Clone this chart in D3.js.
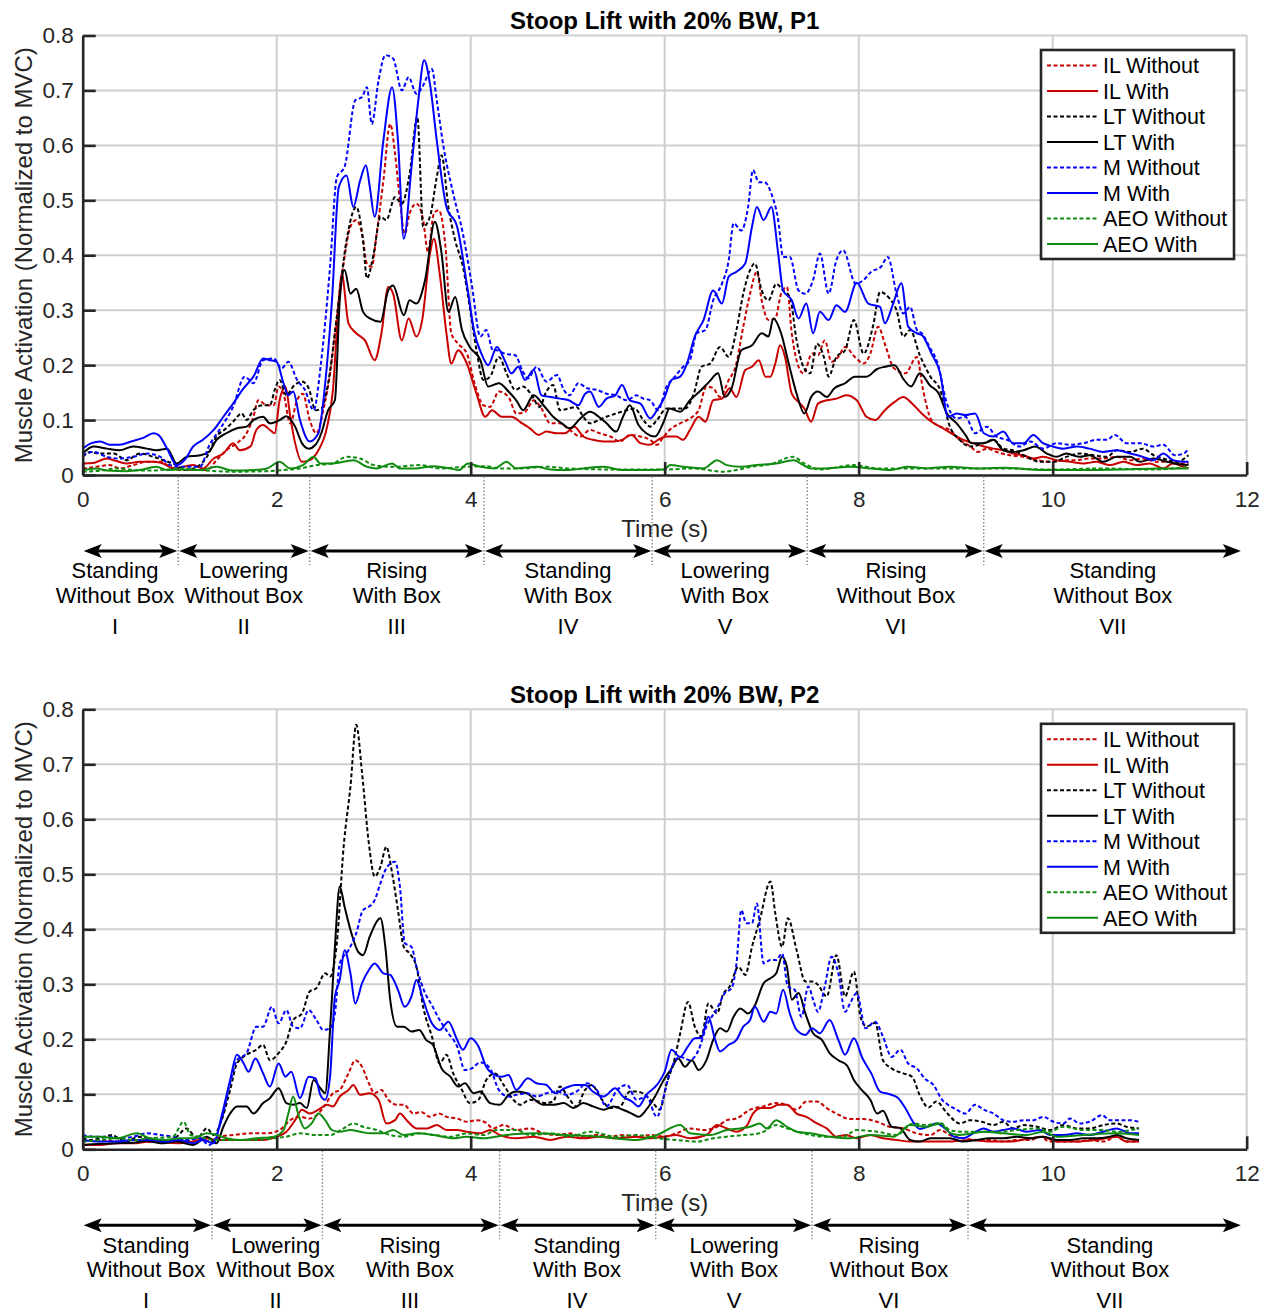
<!DOCTYPE html>
<html>
<head>
<meta charset="utf-8">
<script src="https://cdn.jsdelivr.net/npm/d3@7"></script>
<style>
  html, body { margin: 0; padding: 0; background: #fff; }
  svg { display: block; }
  text { font-family: "Liberation Sans", Arial, Helvetica, sans-serif; }
</style>
</head>
<body>
<svg id="chart" width="1271" height="1312"></svg>
<script>
// ---------------- data: [time (s), activation (fraction of MVC)] ----------------

// Participant 1
const IL_WITHOUT_P1 = [[0,.012],[.14,.015],[.28,.018],[.38,.012],[.52,.018],[.66,.024],[.8,.024],[.9,.015],[1.0,.009],[1.14,.009],[1.28,.009],[1.38,.027],[1.48,.045],[1.59,.058],[1.69,.076],[1.76,.106],[1.81,.136],[1.9,.127],[1.97,.127],[2.02,.161],[2.07,.148],[2.14,.094],[2.21,.136],[2.27,.148],[2.34,.1],[2.41,.076],[2.48,.118],[2.55,.185],[2.62,.288],[2.69,.385],[2.76,.452],[2.82,.464],[2.88,.439],[2.93,.385],[2.98,.379],[3.03,.439],[3.1,.536],[3.17,.639],[3.22,.585],[3.27,.5],[3.32,.439],[3.37,.476],[3.44,.494],[3.51,.464],[3.56,.406],[3.62,.476],[3.67,.482],[3.74,.415],[3.8,.258],[3.87,.239],[3.96,.221],[4.04,.167],[4.13,.127],[4.2,.124],[4.29,.152],[4.39,.142],[4.47,.112],[4.56,.115],[4.65,.136],[4.73,.121],[4.82,.094],[4.92,.094],[5.02,.082],[5.13,.07],[5.23,.082],[5.33,.076],[5.44,.07],[5.54,.061],[5.64,.073],[5.75,.07],[5.85,.064],[5.92,.055],[5.99,.07],[6.05,.082],[6.16,.094],[6.26,.103],[6.35,.118],[6.43,.161],[6.5,.158],[6.57,.142],[6.66,.173],[6.73,.197],[6.81,.27],[6.88,.33],[6.95,.37],[7.0,.318],[7.07,.282],[7.14,.285],[7.2,.33],[7.26,.342],[7.31,.258],[7.38,.197],[7.43,.185],[7.52,.221],[7.58,.218],[7.65,.245],[7.72,.206],[7.79,.215],[7.86,.233],[7.96,.215],[8.05,.203],[8.12,.221],[8.2,.27],[8.28,.233],[8.36,.195],[8.48,.185],[8.6,.215],[8.66,.158],[8.75,.1],[8.84,.088],[8.94,.082],[9.04,.064],[9.15,.052],[9.23,.042],[9.32,.048],[9.42,.042],[9.56,.036],[9.7,.033],[9.84,.027],[9.97,.024],[10.11,.027],[10.25,.027],[10.38,.03],[10.52,.03],[10.66,.033],[10.8,.027],[10.93,.03],[11.07,.024],[11.21,.024],[11.35,.021],[11.4,.021]];
const IL_WITH_P1 = [[0,.021],[.11,.022],[.25,.03],[.32,.027],[.45,.021],[.59,.024],[.73,.024],[.83,.021],[.93,.012],[1.04,.015],[1.14,.018],[1.24,.012],[1.35,.03],[1.45,.039],[1.55,.058],[1.62,.045],[1.73,.052],[1.79,.082],[1.86,.091],[1.93,.082],[1.98,.076],[2.03,.136],[2.09,.161],[2.14,.106],[2.19,.058],[2.26,.024],[2.34,.027],[2.43,.045],[2.52,.088],[2.58,.155],[2.64,.318],[2.67,.367],[2.74,.276],[2.82,.258],[2.91,.245],[3.01,.209],[3.08,.258],[3.15,.342],[3.2,.33],[3.29,.245],[3.36,.285],[3.44,.252],[3.5,.282],[3.58,.403],[3.62,.43],[3.68,.367],[3.75,.258],[3.8,.203],[3.87,.227],[3.96,.203],[4.06,.148],[4.15,.106],[4.22,.118],[4.32,.106],[4.42,.106],[4.53,.094],[4.61,.085],[4.7,.073],[4.78,.079],[4.89,.076],[4.97,.076],[5.07,.088],[5.16,.07],[5.26,.064],[5.37,.061],[5.47,.061],[5.56,.064],[5.66,.073],[5.75,.058],[5.85,.055],[5.93,.064],[6.02,.07],[6.12,.07],[6.19,.064],[6.26,.082],[6.35,.106],[6.42,.097],[6.5,.136],[6.59,.139],[6.67,.158],[6.74,.142],[6.83,.191],[6.9,.197],[6.97,.209],[7.04,.179],[7.09,.179],[7.14,.203],[7.19,.236],[7.24,.215],[7.31,.148],[7.38,.133],[7.44,.121],[7.51,.097],[7.58,.13],[7.67,.136],[7.77,.139],[7.87,.145],[7.98,.136],[8.08,.106],[8.17,.1],[8.27,.118],[8.37,.133],[8.46,.142],[8.55,.13],[8.65,.112],[8.75,.097],[8.86,.086],[8.97,.074],[9.08,.064],[9.18,.058],[9.29,.052],[9.39,.048],[9.49,.045],[9.59,.039],[9.7,.036],[9.8,.03],[9.9,.033],[10.04,.027],[10.18,.024],[10.32,.021],[10.45,.024],[10.59,.018],[10.73,.024],[10.87,.018],[11.0,.021],[11.14,.012],[11.24,.021],[11.35,.015],[11.4,.012]];
const LT_WITHOUT_P1 = [[0,.033],[.08,.042],[.18,.039],[.32,.039],[.45,.027],[.59,.039],[.73,.033],[.83,.027],[.93,.021],[1.07,.009],[1.18,.015],[1.28,.033],[1.38,.07],[1.48,.085],[1.55,.097],[1.64,.112],[1.69,.1],[1.76,.118],[1.86,.127],[1.93,.127],[1.98,.155],[2.03,.173],[2.1,.145],[2.17,.161],[2.26,.17],[2.33,.158],[2.4,.118],[2.46,.121],[2.53,.167],[2.62,.288],[2.72,.427],[2.82,.488],[2.89,.427],[2.93,.358],[3.0,.403],[3.07,.47],[3.13,.464],[3.22,.506],[3.29,.494],[3.37,.548],[3.45,.652],[3.51,.452],[3.58,.47],[3.65,.542],[3.7,.582],[3.77,.488],[3.84,.427],[3.92,.379],[3.99,.306],[4.06,.227],[4.13,.173],[4.2,.179],[4.29,.215],[4.37,.185],[4.46,.155],[4.54,.161],[4.63,.145],[4.71,.124],[4.78,.152],[4.85,.164],[4.92,.118],[5.01,.121],[5.09,.124],[5.16,.106],[5.23,.094],[5.32,.1],[5.4,.106],[5.5,.112],[5.61,.118],[5.69,.121],[5.78,.1],[5.85,.088],[5.92,.1],[6.02,.121],[6.12,.121],[6.21,.121],[6.3,.148],[6.38,.197],[6.47,.203],[6.57,.233],[6.66,.215],[6.74,.264],[6.81,.33],[6.88,.373],[6.93,.385],[7.0,.336],[7.07,.318],[7.15,.348],[7.22,.336],[7.29,.324],[7.36,.245],[7.43,.197],[7.5,.185],[7.57,.239],[7.64,.215],[7.69,.179],[7.77,.215],[7.86,.227],[7.95,.282],[8.05,.221],[8.15,.273],[8.22,.333],[8.32,.321],[8.39,.3],[8.46,.252],[8.53,.264],[8.63,.218],[8.74,.179],[8.84,.155],[8.94,.088],[9.04,.064],[9.15,.052],[9.29,.058],[9.39,.064],[9.49,.048],[9.59,.045],[9.73,.033],[9.87,.024],[10.01,.024],[10.14,.033],[10.28,.039],[10.42,.036],[10.56,.033],[10.66,.045],[10.8,.042],[10.93,.048],[11.04,.036],[11.14,.03],[11.28,.024],[11.4,.036]];
const LT_WITH_P1 = [[0,.039],[.11,.052],[.25,.048],[.38,.045],[.52,.052],[.66,.048],[.76,.045],[.87,.048],[.97,.021],[1.07,.033],[1.21,.036],[1.3,.042],[1.38,.064],[1.48,.076],[1.59,.085],[1.69,.088],[1.76,.1],[1.86,.106],[1.93,.094],[2.03,.1],[2.1,.107],[2.19,.088],[2.26,.058],[2.33,.048],[2.4,.055],[2.46,.076],[2.53,.118],[2.6,.136],[2.65,.318],[2.7,.373],[2.76,.33],[2.82,.339],[2.89,.297],[2.96,.285],[3.07,.279],[3.15,.336],[3.2,.345],[3.31,.291],[3.37,.318],[3.44,.312],[3.53,.355],[3.63,.461],[3.7,.403],[3.77,.297],[3.84,.324],[3.91,.264],[3.99,.233],[4.1,.209],[4.18,.161],[4.29,.167],[4.39,.152],[4.47,.136],[4.54,.118],[4.65,.145],[4.75,.127],[4.85,.106],[4.94,.094],[5.02,.085],[5.13,.103],[5.23,.115],[5.32,.106],[5.4,.094],[5.5,.079],[5.57,.106],[5.64,.127],[5.73,.091],[5.81,.076],[5.9,.07],[5.99,.097],[6.05,.121],[6.16,.115],[6.26,.136],[6.36,.152],[6.46,.17],[6.55,.185],[6.62,.142],[6.69,.158],[6.79,.227],[6.9,.236],[7.0,.258],[7.07,.252],[7.12,.285],[7.2,.258],[7.27,.209],[7.36,.148],[7.44,.112],[7.51,.142],[7.58,.152],[7.67,.142],[7.75,.158],[7.86,.167],[7.96,.179],[8.08,.179],[8.19,.193],[8.27,.197],[8.37,.2],[8.46,.175],[8.54,.161],[8.63,.185],[8.74,.162],[8.82,.15],[8.91,.112],[9.01,.094],[9.1,.073],[9.16,.058],[9.29,.058],[9.39,.064],[9.49,.045],[9.59,.042],[9.7,.045],[9.82,.052],[9.94,.039],[10.04,.033],[10.14,.039],[10.28,.033],[10.38,.036],[10.52,.024],[10.66,.033],[10.8,.033],[10.9,.024],[11.04,.03],[11.18,.024],[11.26,.021],[11.4,.018]];
const M_WITHOUT_P1 = [[0,.036],[.11,.042],[.25,.033],[.38,.03],[.52,.033],[.66,.039],[.8,.033],[.9,.018],[1.0,.015],[1.1,.015],[1.21,.015],[1.3,.052],[1.42,.085],[1.55,.124],[1.67,.179],[1.76,.167],[1.86,.209],[1.97,.212],[2.05,.194],[2.12,.206],[2.21,.173],[2.29,.155],[2.38,.118],[2.46,.209],[2.55,.379],[2.62,.542],[2.7,.561],[2.81,.682],[2.88,.688],[2.93,.706],[2.98,.639],[3.05,.718],[3.12,.764],[3.2,.758],[3.29,.7],[3.36,.724],[3.44,.694],[3.5,.706],[3.6,.739],[3.65,.682],[3.72,.597],[3.82,.512],[3.92,.439],[4.01,.348],[4.1,.252],[4.16,.264],[4.23,.227],[4.27,.227],[4.35,.221],[4.46,.218],[4.53,.191],[4.59,.176],[4.68,.197],[4.78,.17],[4.89,.182],[4.96,.155],[5.02,.145],[5.11,.167],[5.2,.158],[5.3,.155],[5.4,.148],[5.5,.145],[5.61,.136],[5.71,.145],[5.78,.139],[5.85,.136],[5.93,.118],[6.02,.161],[6.09,.176],[6.19,.197],[6.26,.209],[6.33,.258],[6.42,.264],[6.5,.318],[6.59,.348],[6.66,.391],[6.71,.458],[6.79,.445],[6.86,.488],[6.91,.555],[6.97,.533],[7.03,.533],[7.1,.512],[7.17,.464],[7.22,.397],[7.29,.397],[7.38,.336],[7.45,.33],[7.53,.355],[7.6,.403],[7.69,.33],[7.77,.391],[7.84,.409],[7.97,.348],[8.05,.355],[8.13,.37],[8.23,.379],[8.3,.397],[8.39,.33],[8.46,.294],[8.53,.306],[8.6,.264],[8.65,.258],[8.73,.233],[8.82,.2],[8.9,.136],[9.01,.103],[9.1,.106],[9.2,.076],[9.32,.088],[9.42,.07],[9.53,.064],[9.66,.052],[9.77,.061],[9.9,.048],[10.04,.058],[10.18,.055],[10.32,.058],[10.45,.064],[10.56,.064],[10.64,.073],[10.76,.058],[10.9,.058],[11.04,.052],[11.14,.055],[11.26,.036],[11.35,.039],[11.4,.048]];
const M_WITH_P1 = [[0,.048],[.09,.058],[.18,.061],[.28,.055],[.38,.055],[.5,.061],[.63,.068],[.73,.076],[.78,.073],[.87,.048],[.97,.018],[1.05,.027],[1.14,.052],[1.24,.064],[1.35,.082],[1.45,.106],[1.55,.13],[1.66,.158],[1.76,.179],[1.86,.212],[1.93,.209],[2.0,.206],[2.07,.167],[2.12,.145],[2.17,.152],[2.24,.1],[2.34,.061],[2.43,.076],[2.5,.167],[2.57,.318],[2.64,.524],[2.72,.545],[2.79,.488],[2.86,.536],[2.92,.564],[2.96,.524],[3.01,.47],[3.1,.609],[3.19,.706],[3.25,.609],[3.31,.43],[3.39,.561],[3.46,.682],[3.52,.755],[3.58,.712],[3.65,.609],[3.75,.488],[3.86,.452],[3.96,.348],[4.04,.258],[4.11,.221],[4.18,.2],[4.27,.233],[4.35,.209],[4.42,.185],[4.49,.197],[4.56,.173],[4.65,.191],[4.73,.145],[4.82,.142],[4.92,.139],[5.01,.136],[5.11,.127],[5.18,.148],[5.23,.152],[5.32,.124],[5.4,.139],[5.49,.145],[5.56,.164],[5.64,.136],[5.75,.13],[5.85,.103],[5.92,.118],[6.0,.142],[6.07,.173],[6.16,.179],[6.23,.203],[6.31,.252],[6.4,.282],[6.5,.336],[6.59,.312],[6.66,.361],[6.74,.37],[6.83,.385],[6.9,.452],[6.95,.488],[7.02,.464],[7.1,.488],[7.17,.403],[7.22,.336],[7.31,.318],[7.38,.285],[7.46,.312],[7.53,.258],[7.6,.297],[7.69,.282],[7.77,.309],[7.86,.297],[7.98,.35],[8.1,.312],[8.22,.306],[8.27,.276],[8.35,.309],[8.44,.349],[8.51,.27],[8.6,.258],[8.65,.255],[8.75,.221],[8.84,.185],[8.92,.106],[9.01,.112],[9.1,.109],[9.2,.112],[9.29,.076],[9.39,.07],[9.49,.079],[9.59,.058],[9.7,.058],[9.8,.073],[9.9,.058],[10.0,.052],[10.11,.048],[10.25,.052],[10.38,.048],[10.52,.042],[10.66,.045],[10.8,.039],[10.93,.033],[11.04,.027],[11.14,.039],[11.24,.027],[11.35,.024],[11.4,.024]];
const AEO_WITHOUT_P1 = [[0,.006],[.18,.008],[.35,.012],[.52,.009],[.69,.008],[.87,.01],[1.0,.012],[1.21,.009],[1.55,.006],[1.9,.007],[2.07,.009],[2.24,.012],[2.41,.018],[2.58,.021],[2.72,.033],[2.86,.03],[3.0,.018],[3.2,.015],[3.47,.018],[3.68,.012],[3.95,.015],[4.16,.016],[4.3,.012],[4.5,.012],[4.8,.015],[5.0,.012],[5.5,.01],[6.0,.01],[6.3,.012],[6.6,.006],[6.9,.015],[7.1,.02],[7.32,.033],[7.45,.02],[7.6,.01],[7.95,.018],[8.2,.012],[8.5,.012],[9.0,.012],[9.5,.012],[10.0,.01],[10.5,.012],[11.0,.01],[11.4,.014]];
const AEO_WITH_P1 = [[0,.009],[.14,.012],[.25,.008],[.45,.007],[.59,.009],[.76,.015],[.87,.009],[1.0,.01],[1.21,.009],[1.38,.015],[1.55,.008],[1.76,.009],[1.9,.012],[2.03,.024],[2.14,.012],[2.27,.018],[2.38,.033],[2.45,.021],[2.58,.021],[2.79,.027],[2.93,.015],[3.03,.012],[3.19,.021],[3.27,.012],[3.44,.012],[3.61,.016],[3.79,.012],[3.88,.009],[3.97,.021],[4.1,.015],[4.25,.012],[4.37,.024],[4.47,.012],[4.68,.015],[4.82,.01],[4.99,.009],[5.16,.012],[5.37,.015],[5.57,.009],[5.78,.009],[5.99,.01],[6.06,.018],[6.19,.015],[6.4,.012],[6.54,.027],[6.64,.018],[6.78,.015],[6.95,.018],[7.15,.021],[7.33,.027],[7.43,.018],[7.5,.012],[7.67,.012],[7.91,.015],[8.12,.012],[8.33,.009],[8.5,.015],[8.7,.012],[8.94,.015],[9.2,.012],[9.5,.013],[9.9,.009],[10.3,.009],[10.7,.01],[11.1,.012],[11.4,.012]];

// Participant 2
const IL_WITHOUT_P2 = [[0,.014],[.18,.017],[.35,.014],[.52,.017],[.69,.014],[.86,.017],[1.07,.014],[1.21,.02],[1.31,.014],[1.42,.023],[1.55,.026],[1.73,.029],[1.9,.029],[2.03,.035],[2.14,.053],[2.24,.059],[2.34,.056],[2.43,.065],[2.5,.081],[2.58,.102],[2.65,.108],[2.74,.138],[2.81,.162],[2.88,.15],[2.95,.12],[3.01,.102],[3.08,.108],[3.15,.09],[3.24,.081],[3.31,.081],[3.41,.065],[3.49,.068],[3.58,.059],[3.67,.065],[3.75,.059],[3.86,.056],[3.96,.05],[4.06,.053],[4.16,.048],[4.23,.038],[4.34,.044],[4.47,.035],[4.61,.038],[4.75,.029],[4.89,.026],[5.02,.029],[5.16,.023],[5.3,.026],[5.44,.023],[5.57,.026],[5.71,.023],[5.85,.026],[5.99,.023],[6.12,.029],[6.26,.038],[6.4,.035],[6.54,.041],[6.64,.053],[6.74,.056],[6.88,.072],[7.02,.078],[7.15,.084],[7.26,.081],[7.36,.072],[7.46,.087],[7.57,.087],[7.67,.075],[7.77,.065],[7.91,.055],[8.05,.055],[8.19,.05],[8.32,.041],[8.46,.038],[8.6,.029],[8.74,.026],[8.84,.035],[8.94,.026],[9.08,.02],[9.22,.017],[9.35,.017],[9.49,.014],[9.63,.017],[9.77,.017],[9.87,.023],[9.97,.014],[10.11,.014],[10.25,.014],[10.38,.017],[10.52,.014],[10.66,.023],[10.76,.014],[10.89,.014]];
const IL_WITH_P2 = [[0,.008],[.18,.008],[.35,.011],[.52,.011],[.69,.014],[.86,.012],[1.0,.011],[1.14,.014],[1.28,.02],[1.38,.017],[1.52,.017],[1.69,.017],[1.86,.017],[2.0,.023],[2.1,.032],[2.19,.053],[2.26,.072],[2.34,.065],[2.43,.072],[2.52,.081],[2.58,.078],[2.65,.096],[2.74,.108],[2.79,.117],[2.86,.099],[2.96,.102],[3.05,.09],[3.13,.047],[3.22,.053],[3.27,.065],[3.34,.053],[3.44,.038],[3.55,.038],[3.65,.044],[3.75,.035],[3.86,.035],[3.96,.032],[4.1,.029],[4.2,.035],[4.3,.026],[4.47,.02],[4.65,.023],[4.82,.017],[4.99,.023],[5.16,.02],[5.33,.023],[5.5,.02],[5.71,.023],[5.85,.02],[5.99,.023],[6.12,.026],[6.26,.02],[6.43,.026],[6.54,.044],[6.64,.038],[6.74,.032],[6.85,.044],[6.91,.065],[7.0,.075],[7.09,.075],[7.17,.081],[7.26,.081],[7.36,.065],[7.46,.059],[7.57,.047],[7.67,.038],[7.77,.023],[7.87,.026],[7.98,.02],[8.12,.026],[8.25,.02],[8.39,.017],[8.53,.014],[8.67,.014],[8.8,.014],[8.94,.014],[9.15,.017],[9.35,.014],[9.55,.014],[9.77,.02],[9.9,.023],[10.04,.014],[10.25,.014],[10.45,.017],[10.66,.023],[10.76,.014],[10.89,.014]];
const LT_WITHOUT_P2 = [[0,.02],[.08,.017],[.18,.02],[.3,.026],[.37,.02],[.45,.014],[.57,.023],[.69,.02],[.83,.014],[.97,.023],[1.07,.038],[1.18,.02],[1.28,.038],[1.35,.026],[1.42,.047],[1.52,.108],[1.59,.156],[1.69,.172],[1.79,.181],[1.86,.19],[1.93,.162],[2.02,.175],[2.1,.196],[2.17,.235],[2.26,.247],[2.34,.287],[2.41,.293],[2.5,.32],[2.55,.314],[2.62,.375],[2.69,.55],[2.76,.659],[2.82,.772],[2.88,.684],[2.95,.556],[3.01,.496],[3.07,.514],[3.13,.55],[3.19,.502],[3.25,.435],[3.31,.368],[3.37,.356],[3.44,.332],[3.51,.259],[3.6,.205],[3.68,.156],[3.75,.172],[3.82,.138],[3.91,.108],[3.99,.084],[4.08,.09],[4.16,.126],[4.25,.138],[4.34,.117],[4.44,.09],[4.51,.081],[4.61,.09],[4.68,.088],[4.77,.084],[4.85,.087],[4.92,.114],[5.01,.093],[5.09,.078],[5.18,.108],[5.25,.117],[5.33,.096],[5.44,.075],[5.54,.078],[5.64,.105],[5.71,.105],[5.8,.099],[5.88,.084],[5.95,.072],[6.02,.12],[6.09,.156],[6.16,.211],[6.24,.268],[6.31,.223],[6.38,.205],[6.45,.265],[6.54,.247],[6.6,.281],[6.67,.296],[6.76,.332],[6.83,.317],[6.9,.368],[6.98,.417],[7.09,.487],[7.14,.429],[7.21,.368],[7.27,.42],[7.36,.362],[7.45,.305],[7.53,.305],[7.58,.299],[7.67,.278],[7.77,.353],[7.86,.278],[7.95,.323],[8.02,.24],[8.08,.223],[8.17,.23],[8.25,.162],[8.34,.147],[8.46,.138],[8.55,.132],[8.63,.098],[8.72,.076],[8.8,.087],[8.91,.066],[9.04,.047],[9.15,.053],[9.27,.05],[9.39,.044],[9.49,.05],[9.59,.038],[9.7,.044],[9.84,.041],[9.97,.035],[10.11,.044],[10.25,.038],[10.38,.038],[10.52,.044],[10.66,.047],[10.76,.041],[10.89,.038]];
const LT_WITH_P2 = [[0,.008],[.18,.01],[.35,.011],[.52,.012],[.66,.015],[.8,.011],[.97,.014],[1.14,.008],[1.28,.023],[1.38,.011],[1.45,.041],[1.52,.065],[1.59,.078],[1.69,.078],[1.76,.065],[1.86,.084],[1.93,.093],[2.02,.111],[2.1,.084],[2.17,.081],[2.24,.084],[2.31,.075],[2.38,.126],[2.45,.111],[2.5,.102],[2.55,.217],[2.6,.368],[2.65,.478],[2.7,.441],[2.77,.393],[2.84,.359],[2.89,.353],[2.96,.387],[3.07,.42],[3.12,.368],[3.17,.272],[3.24,.223],[3.31,.223],[3.39,.214],[3.47,.217],[3.54,.199],[3.61,.19],[3.7,.147],[3.79,.132],[3.87,.114],[3.94,.12],[4.03,.102],[4.1,.105],[4.2,.084],[4.3,.081],[4.39,.099],[4.47,.105],[4.58,.102],[4.66,.09],[4.75,.081],[4.85,.081],[4.96,.084],[5.06,.075],[5.16,.084],[5.26,.078],[5.37,.072],[5.47,.078],[5.57,.072],[5.66,.065],[5.73,.059],[5.81,.072],[5.9,.096],[5.99,.126],[6.07,.147],[6.14,.165],[6.21,.15],[6.28,.162],[6.35,.144],[6.43,.162],[6.5,.199],[6.57,.22],[6.64,.214],[6.71,.241],[6.78,.256],[6.86,.247],[6.93,.262],[7.02,.302],[7.09,.311],[7.15,.32],[7.21,.35],[7.26,.332],[7.31,.272],[7.38,.284],[7.45,.247],[7.53,.211],[7.62,.199],[7.7,.175],[7.79,.162],[7.88,.152],[7.95,.126],[8.03,.108],[8.12,.09],[8.19,.065],[8.25,.07],[8.34,.041],[8.43,.038],[8.53,.017],[8.63,.014],[8.74,.02],[8.84,.02],[8.94,.02],[9.08,.014],[9.22,.017],[9.35,.02],[9.49,.02],[9.63,.023],[9.77,.02],[9.9,.023],[10.04,.017],[10.18,.017],[10.32,.02],[10.45,.02],[10.59,.023],[10.66,.026],[10.76,.02],[10.89,.017]];
const M_WITHOUT_P2 = [[0,.026],[.11,.023],[.25,.023],[.38,.02],[.52,.023],[.66,.029],[.8,.026],[.93,.023],[1.07,.017],[1.21,.02],[1.3,.008],[1.36,.017],[1.43,.053],[1.52,.12],[1.59,.162],[1.69,.175],[1.79,.223],[1.86,.223],[1.95,.259],[2.02,.229],[2.1,.253],[2.17,.223],[2.24,.22],[2.33,.253],[2.41,.235],[2.48,.217],[2.55,.22],[2.6,.247],[2.65,.338],[2.74,.362],[2.82,.393],[2.89,.435],[2.95,.441],[3.01,.453],[3.07,.484],[3.13,.511],[3.22,.523],[3.27,.478],[3.32,.375],[3.39,.368],[3.44,.332],[3.53,.284],[3.6,.262],[3.68,.235],[3.77,.211],[3.86,.187],[3.94,.144],[4.01,.147],[4.1,.158],[4.2,.147],[4.29,.108],[4.39,.096],[4.47,.099],[4.58,.102],[4.68,.096],[4.78,.102],[4.89,.105],[4.99,.099],[5.09,.105],[5.2,.12],[5.3,.108],[5.4,.078],[5.51,.108],[5.61,.117],[5.71,.09],[5.81,.096],[5.92,.059],[5.99,.096],[6.05,.138],[6.16,.168],[6.26,.162],[6.35,.181],[6.43,.223],[6.54,.256],[6.62,.284],[6.69,.293],[6.74,.338],[6.79,.435],[6.84,.411],[6.9,.411],[6.95,.447],[7.02,.338],[7.09,.344],[7.15,.344],[7.21,.356],[7.27,.296],[7.34,.29],[7.41,.241],[7.48,.296],[7.53,.272],[7.58,.25],[7.65,.296],[7.72,.35],[7.79,.32],[7.86,.25],[7.91,.265],[7.98,.284],[8.07,.22],[8.17,.232],[8.25,.205],[8.34,.168],[8.43,.181],[8.51,.156],[8.6,.147],[8.68,.129],[8.77,.117],[8.86,.09],[8.92,.081],[9.01,.072],[9.1,.065],[9.2,.081],[9.29,.072],[9.39,.065],[9.49,.053],[9.59,.05],[9.7,.053],[9.8,.053],[9.9,.059],[10.01,.05],[10.11,.047],[10.18,.056],[10.28,.047],[10.38,.05],[10.51,.062],[10.59,.053],[10.69,.053],[10.8,.053],[10.89,.05]];
const M_WITH_P2 = [[0,.017],[.18,.014],[.35,.014],[.52,.017],[.69,.017],[.86,.014],[1.0,.017],[1.14,.011],[1.24,.017],[1.35,.011],[1.43,.059],[1.52,.126],[1.59,.172],[1.66,.156],[1.71,.141],[1.78,.165],[1.86,.138],[1.93,.114],[2.02,.156],[2.09,.132],[2.15,.141],[2.24,.093],[2.33,.132],[2.4,.129],[2.45,.099],[2.5,.09],[2.55,.132],[2.6,.278],[2.65,.308],[2.7,.362],[2.76,.32],[2.81,.265],[2.88,.302],[2.95,.326],[3.01,.338],[3.1,.32],[3.17,.317],[3.25,.29],[3.32,.259],[3.39,.278],[3.44,.308],[3.51,.272],[3.6,.229],[3.68,.217],[3.77,.232],[3.86,.199],[3.92,.181],[4.0,.202],[4.08,.187],[4.16,.15],[4.25,.135],[4.32,.132],[4.39,.135],[4.47,.108],[4.59,.129],[4.68,.12],[4.78,.117],[4.87,.102],[4.97,.111],[5.08,.117],[5.18,.117],[5.26,.105],[5.37,.096],[5.49,.111],[5.57,.096],[5.66,.087],[5.73,.078],[5.81,.099],[5.92,.117],[6.0,.141],[6.07,.181],[6.16,.168],[6.24,.187],[6.31,.202],[6.38,.203],[6.45,.241],[6.52,.199],[6.57,.178],[6.66,.19],[6.74,.199],[6.81,.223],[6.88,.235],[6.93,.259],[7.02,.232],[7.09,.25],[7.15,.247],[7.22,.29],[7.29,.247],[7.36,.217],[7.45,.208],[7.52,.22],[7.6,.211],[7.7,.235],[7.79,.199],[7.86,.172],[7.95,.202],[8.04,.165],[8.13,.138],[8.22,.105],[8.32,.1],[8.4,.094],[8.48,.075],[8.56,.05],[8.63,.037],[8.72,.042],[8.8,.047],[8.91,.035],[8.98,.023],[9.08,.02],[9.18,.029],[9.29,.038],[9.39,.032],[9.49,.035],[9.59,.038],[9.73,.032],[9.87,.035],[9.97,.026],[10.11,.026],[10.25,.029],[10.38,.026],[10.52,.032],[10.66,.038],[10.8,.029],[10.89,.029]];
const AEO_WITHOUT_P2 = [[0,.014],[.18,.017],[.35,.02],[.52,.017],[.69,.02],[.93,.023],[1.04,.05],[1.11,.026],[1.21,.023],[1.35,.017],[1.55,.017],[1.76,.017],[1.97,.02],[2.1,.023],[2.24,.029],[2.41,.026],[2.55,.026],[2.69,.038],[2.79,.047],[2.89,.041],[3.03,.035],[3.17,.026],[3.31,.023],[3.48,.029],[3.62,.026],[3.79,.023],[3.96,.029],[4.13,.026],[4.27,.035],[4.47,.035],[4.61,.026],[4.82,.029],[5.02,.023],[5.23,.032],[5.5,.023],[5.71,.026],[5.92,.02],[6.12,.017],[6.33,.014],[6.5,.02],[6.64,.023],[6.81,.026],[6.98,.029],[7.15,.044],[7.26,.038],[7.43,.029],[7.64,.023],[7.84,.023],[7.98,.035],[8.19,.032],[8.39,.026],[8.56,.047],[8.7,.044],[8.84,.048],[8.94,.035],[9.08,.032],[9.29,.032],[9.46,.032],[9.63,.035],[9.84,.038],[9.97,.032],[10.11,.041],[10.32,.035],[10.52,.035],[10.66,.032],[10.89,.038]];
const AEO_WITH_P2 = [[0,.023],[.18,.023],[.35,.02],[.56,.029],[.69,.02],[.86,.017],[1.0,.02],[1.14,.02],[1.28,.029],[1.38,.026],[1.48,.02],[1.62,.017],[1.79,.02],[1.97,.023],[2.07,.035],[2.12,.065],[2.17,.096],[2.22,.065],[2.29,.038],[2.36,.047],[2.43,.065],[2.5,.053],[2.57,.035],[2.65,.032],[2.76,.035],[2.86,.032],[2.96,.029],[3.1,.029],[3.2,.035],[3.31,.026],[3.44,.029],[3.62,.026],[3.82,.02],[3.96,.023],[4.13,.02],[4.37,.026],[4.65,.029],[4.99,.026],[5.33,.023],[5.71,.017],[5.92,.026],[6.16,.044],[6.26,.029],[6.47,.026],[6.64,.035],[6.78,.038],[6.88,.041],[6.98,.047],[7.05,.038],[7.15,.053],[7.26,.041],[7.36,.032],[7.5,.029],[7.7,.023],[7.91,.02],[8.12,.026],[8.36,.023],[8.53,.044],[8.7,.041],[8.84,.047],[8.94,.03],[9.04,.026],[9.29,.032],[9.49,.029],[9.73,.026],[9.9,.032],[10.04,.023],[10.32,.026],[10.66,.029],[10.89,.026]];

// Legend entries (order of drawing) and axis ticks
const SERIES_NAMES = ["IL Without", "IL With", "LT Without", "LT With", "M Without", "M With", "AEO Without", "AEO With"];
const X_TICKS = [0, 2, 4, 6, 8, 10, 12];
const Y_TICKS = [0, 0.1, 0.2, 0.3, 0.4, 0.5, 0.6, 0.7, 0.8];

// Task phases: boundaries (s), label centres (s), label text
const PHASE_BOUNDS_P1 = [0.985, 2.34, 4.137, 5.871, 7.469, 9.289];
const PHASE_BOUNDS_P2 = [1.333, 2.471, 4.298, 5.907, 7.519, 9.127];
const PHASE_LABEL_X_P1 = [0.333, 1.66, 3.237, 5.003, 6.622, 8.384, 10.62];
const PHASE_LABEL_X_P2 = [0.653, 1.988, 3.374, 5.096, 6.715, 8.312, 10.59];
const PHASE_LINE1 = ["Standing", "Lowering", "Rising", "Standing", "Lowering", "Rising", "Standing"];
const PHASE_LINE2 = ["Without Box", "Without Box", "With Box", "With Box", "With Box", "Without Box", "Without Box"];
const PHASE_NUMERALS = ["I", "II", "III", "IV", "V", "VI", "VII"];
const ARROW_END = 11.95;

// ---------------- drawing ----------------
const svg = d3.select("#chart");
const LEFT = 82.7, RIGHT = 1246.7;
const COLORS = {IL: "#c80000", LT: "#000000", M: "#0000ff", AEO: "#0f8c0f"};
const styleOf = name => {
  const [muscle, cond] = name.split(" ");
  return {color: COLORS[muscle], dashed: cond === "Without"};
};

const panels = [
  {title: "Stoop Lift with 20% BW, P1", top: 35.5, bottom: 475,
   series: [IL_WITHOUT_P1, IL_WITH_P1, LT_WITHOUT_P1, LT_WITH_P1, M_WITHOUT_P1, M_WITH_P1, AEO_WITHOUT_P1, AEO_WITH_P1],
   bounds: PHASE_BOUNDS_P1, labelX: PHASE_LABEL_X_P1},
  {title: "Stoop Lift with 20% BW, P2", top: 709.3, bottom: 1149.3,
   series: [IL_WITHOUT_P2, IL_WITH_P2, LT_WITHOUT_P2, LT_WITH_P2, M_WITHOUT_P2, M_WITH_P2, AEO_WITHOUT_P2, AEO_WITH_P2],
   bounds: PHASE_BOUNDS_P2, labelX: PHASE_LABEL_X_P2}
];

const AXIS_COLOR = "#262626";
const GRID_COLOR = "#cfcfcf";
const LINE_W = 2;
const ANNOT_FONT = "22px";

panels.forEach(p => {
  const x = d3.scaleLinear().domain([0, 12]).range([LEFT, RIGHT]);
  const y = d3.scaleLinear().domain([0, 0.8]).range([p.bottom, p.top]);
  const g = svg.append("g");

  // grid
  g.append("g").selectAll("line").data(X_TICKS.slice(1)).join("line")
    .attr("x1", d => x(d)).attr("x2", d => x(d))
    .attr("y1", p.top).attr("y2", p.bottom)
    .attr("stroke", GRID_COLOR).attr("stroke-width", 2);
  g.append("g").selectAll("line").data(Y_TICKS.slice(1)).join("line")
    .attr("x1", LEFT).attr("x2", RIGHT)
    .attr("y1", d => y(d)).attr("y2", d => y(d))
    .attr("stroke", GRID_COLOR).attr("stroke-width", 2);

  // series
  const line = d3.line().x(d => x(d[0])).y(d => y(d[1])).curve(d3.curveMonotoneX);
  p.series.forEach((data, i) => {
    const st = styleOf(SERIES_NAMES[i]);
    g.append("path").datum(data)
      .attr("d", line)
      .attr("fill", "none")
      .attr("stroke", st.color)
      .attr("stroke-width", LINE_W)
      .attr("stroke-linejoin", "round")
      .attr("stroke-dasharray", st.dashed ? "4,2.5" : null);
  });

  // axes
  const yAxis = d3.axisLeft(y).tickValues(Y_TICKS).tickSize(-13).tickSizeOuter(0).tickPadding(9)
    .tickFormat(d => d === 0 ? "0" : d3.format(".1f")(d));
  const ya = g.append("g").attr("transform", `translate(${LEFT},0)`).call(yAxis);
  const xAxis = d3.axisBottom(x).tickValues(X_TICKS).tickSize(-13).tickSizeOuter(0).tickPadding(16)
    .tickFormat(d3.format("d"));
  const xa = g.append("g").attr("transform", `translate(0,${p.bottom})`).call(xAxis);
  [ya, xa].forEach(a => {
    a.select(".domain").attr("stroke", AXIS_COLOR).attr("stroke-width", 2.6);
    a.selectAll(".tick line").attr("stroke", AXIS_COLOR).attr("stroke-width", 2.6);
    a.selectAll(".tick text").attr("fill", AXIS_COLOR).style("font-size", "22.5px")
      .style("font-family", '"Liberation Sans", Arial, sans-serif');
  });

  // titles and axis labels
  g.append("text").attr("x", (LEFT + RIGHT) / 2).attr("y", p.top - 6.5)
    .attr("text-anchor", "middle").style("font-size", "24px").style("font-weight", "bold")
    .text(p.title);
  g.append("text").attr("x", x(6)).attr("y", p.bottom + 62)
    .attr("text-anchor", "middle").style("font-size", "24px").attr("fill", AXIS_COLOR)
    .text("Time (s)");
  g.append("text").attr("transform", `translate(32,${(p.top + p.bottom) / 2}) rotate(-90)`)
    .attr("text-anchor", "middle").style("font-size", "24px").attr("fill", AXIS_COLOR)
    .text("Muscle Activation (Normalized to MVC)");

  // legend
  const lg = g.append("g").attr("transform", `translate(1041,${p.top + 14.5})`);
  lg.append("rect").attr("width", 193).attr("height", 209)
    .attr("fill", "#fff").attr("stroke", AXIS_COLOR).attr("stroke-width", 2.6);
  SERIES_NAMES.forEach((name, i) => {
    const st = styleOf(name);
    const cy = 15.5 + i * 25.5;
    lg.append("line").attr("x1", 6).attr("x2", 57).attr("y1", cy).attr("y2", cy)
      .attr("stroke", st.color).attr("stroke-width", LINE_W)
      .attr("stroke-dasharray", st.dashed ? "4,2.5" : null);
    lg.append("text").attr("x", 62).attr("y", cy).attr("dy", "0.36em")
      .style("font-size", "21.5px").text(name);
  });

  // phase annotations under the axis
  const ay = p.bottom + 76;
  g.append("g").selectAll("line").data(p.bounds).join("line")
    .attr("x1", d => x(d)).attr("x2", d => x(d))
    .attr("y1", p.bottom + 1.5).attr("y2", p.bottom + 90)
    .attr("stroke", "#8a8a8a").attr("stroke-width", 1.5).attr("stroke-dasharray", "1.5,2");

  const edges = [0, ...p.bounds, ARROW_END];
  const HL = 18, HW = 7, NOTCH = 4;
  for (let i = 0; i < edges.length - 1; i++) {
    const x1 = x(edges[i]) + 1, x2 = x(edges[i + 1]) - 1;
    g.append("line").attr("x1", x1 + HL - 4).attr("x2", x2 - HL + 4).attr("y1", ay).attr("y2", ay)
      .attr("stroke", "#000").attr("stroke-width", 3);
    g.append("path")
      .attr("d", `M${x1},${ay} L${x1 + HL},${ay - HW} L${x1 + HL - NOTCH},${ay} L${x1 + HL},${ay + HW} Z`)
      .attr("fill", "#000");
    g.append("path")
      .attr("d", `M${x2},${ay} L${x2 - HL},${ay - HW} L${x2 - HL + NOTCH},${ay} L${x2 - HL},${ay + HW} Z`)
      .attr("fill", "#000");
  }
  // two-line phase description plus its numeral
  const lab = g.append("g").selectAll("g").data(p.labelX).join("g")
    .attr("transform", d => `translate(${x(d)},0)`);
  lab.append("text").attr("y", ay + 27.3).attr("text-anchor", "middle").style("font-size", ANNOT_FONT)
    .text((d, i) => PHASE_LINE1[i]);
  lab.append("text").attr("y", ay + 52.1).attr("text-anchor", "middle").style("font-size", ANNOT_FONT)
    .text((d, i) => PHASE_LINE2[i]);
  lab.append("text").attr("y", ay + 83).attr("text-anchor", "middle").style("font-size", ANNOT_FONT)
    .text((d, i) => PHASE_NUMERALS[i]);
});
</script>
</body>
</html>
